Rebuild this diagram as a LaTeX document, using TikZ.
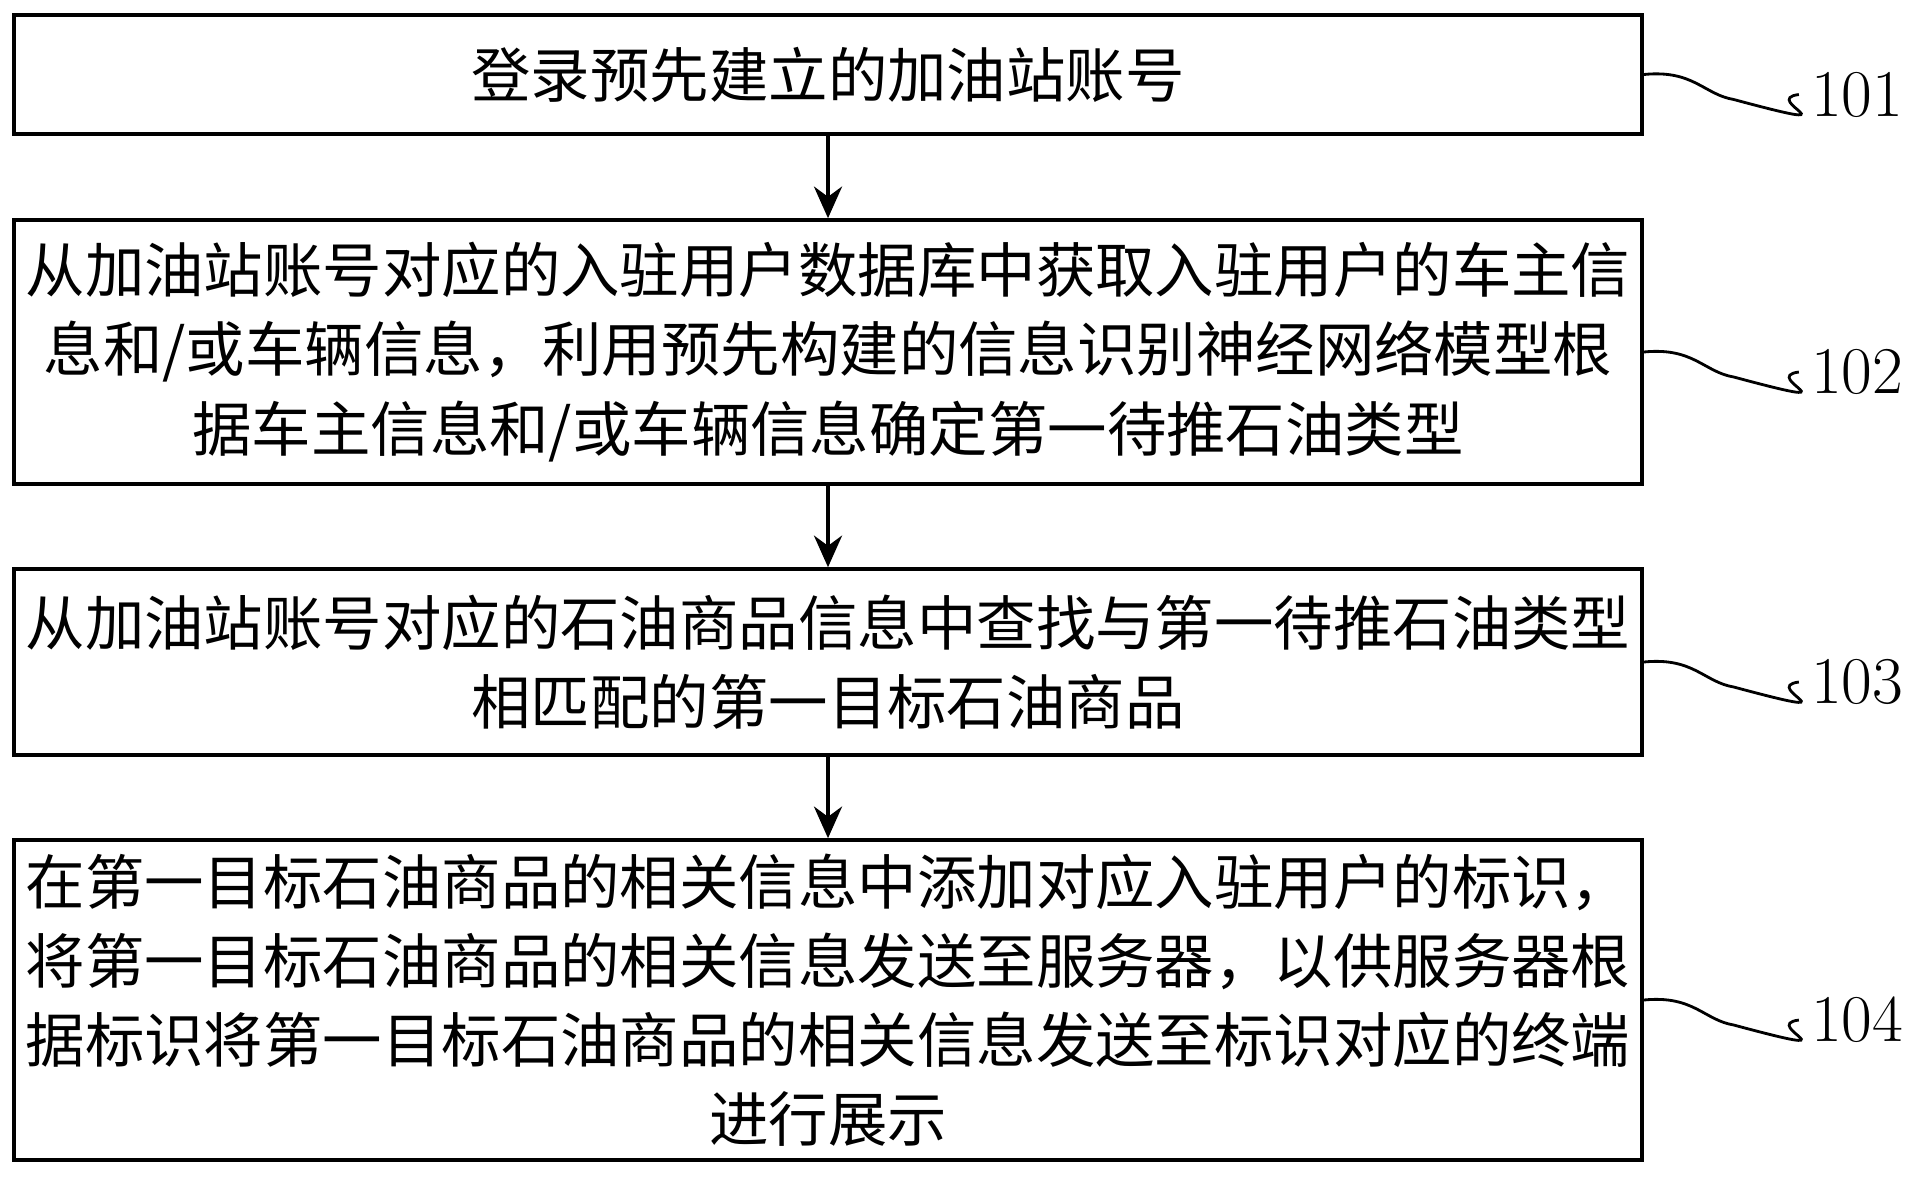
\documentclass[tikz,border=0pt]{standalone}
\usepackage{fontspec}
\newfontfamily\cjk{Noto Sans CJK SC}
\usetikzlibrary{arrows.meta,positioning}
\begin{document}
\begin{tikzpicture}[x=0.01cm,y=-0.01cm,
    stepbox/.style={draw,line width=1pt,minimum width=16.27cm,align=center,
      font=\cjk\fontsize{16.9pt}{22.5pt}\selectfont,inner sep=0pt},
    flow/.style={-{Stealth[length=9pt,width=8pt]},line width=1pt},
    tag/.style={font=\fontsize{19pt}{22pt}\selectfont}]
  \useasboundingbox (0,0) rectangle (1913,1178);
  % boxes
  \node[stepbox,minimum height=1.19cm] (b1) at (828,74.5) {登录预先建立的加油站账号};
  \node[stepbox,minimum height=2.64cm] (b2) at (828,352) {从加油站账号对应的入驻用户数据库中获取入驻用户的车主信\\息和/或车辆信息，利用预先构建的信息识别神经网络模型根\\据车主信息和/或车辆信息确定第一待推石油类型};
  \node[stepbox,minimum height=1.86cm] (b3) at (828,662) {从加油站账号对应的石油商品信息中查找与第一待推石油类型\\相匹配的第一目标石油商品};
  \node[stepbox,minimum height=3.20cm] (b4) at (828,1000) {在第一目标石油商品的相关信息中添加对应入驻用户的标识，\\将第一目标石油商品的相关信息发送至服务器，以供服务器根\\据标识将第一目标石油商品的相关信息发送至标识对应的终端\\进行展示};
  % connectors
  \draw[flow] (b1) -- (b2);
  \draw[flow] (b2) -- (b3);
  \draw[flow] (b3) -- (b4);
  % step numbers
  \foreach \b/\n in {b1/101,b2/102,b3/103,b4/104}{
    \node[tag,anchor=west] (t\n) at ([xshift=1.55cm,yshift=-0.2cm]\b.east) {\n};
    \draw[line width=0.8pt] (\b.east) .. controls +(50,-5) and +(-30,-5) .. +(90,25)
      .. controls +(130,35) and +(-40,5) .. (t\n.west);
  }
\end{tikzpicture}
\end{document}
